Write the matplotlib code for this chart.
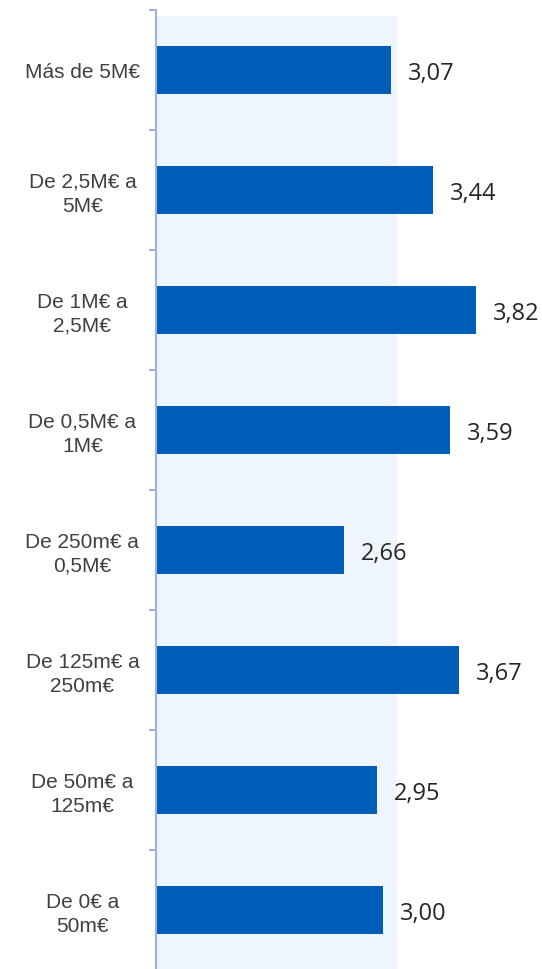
import matplotlib
matplotlib.use('Agg')
import matplotlib.pyplot as plt
import numpy as np

# tramos de facturacion, de arriba a abajo
categorias = ['Más de 5M€', 'De 2,5M€ a\n5M€', 'De 1M€ a\n2,5M€', 'De 0,5M€ a\n1M€',
              'De 250m€ a\n0,5M€', 'De 125m€ a\n250m€', 'De 50m€ a\n125m€', 'De 0€ a\n50m€']
valores = [3.07, 3.44, 3.82, 3.59, 2.66, 3.67, 2.95, 3.00]

base = 1.0  # el eje empieza en 1

fig = plt.figure(figsize=(5.42, 9.69), dpi=100)
ax = fig.add_axes([156 / 542, -1 / 969, (496.3 - 156) / 542, 960 / 969])

y = np.arange(len(categorias))
ax.axvspan(base, 3.125, ymin=0, ymax=0.99375, color='#EEF5FC', zorder=0, lw=0)
ax.barh(y, np.array(valores) - base, left=base, height=0.4, color='#005EB8', zorder=2)

for yi, v in zip(y, valores):
    ax.text(v + 0.15, yi + 0.03, f'{v:.2f}'.replace('.', ','), va='center', ha='left',
            fontsize=17, family='Open Sans', color='#262626')

ax.set_xlim(base, 4.0)
ax.set_ylim(len(categorias) - 0.5, -0.5)

ax.set_yticks(y)
ax.set_yticklabels(categorias, fontsize=15, family='Liberation Sans', color='#404040',
                   ha='center', linespacing=1.3)
ax.tick_params(axis='y', which='major', length=0, pad=53)
ax.set_yticks(np.arange(-0.5, len(categorias), 1), minor=True)
ax.tick_params(axis='y', which='minor', length=5, width=1.2, color='#8FA3DB', direction='out')
ax.set_xticks([])

for s in ['top', 'right', 'bottom']:
    ax.spines[s].set_visible(False)
ax.spines['left'].set_color('#9FB0E0')
ax.spines['left'].set_linewidth(1.5)

fig.savefig('out.png', dpi=100)
